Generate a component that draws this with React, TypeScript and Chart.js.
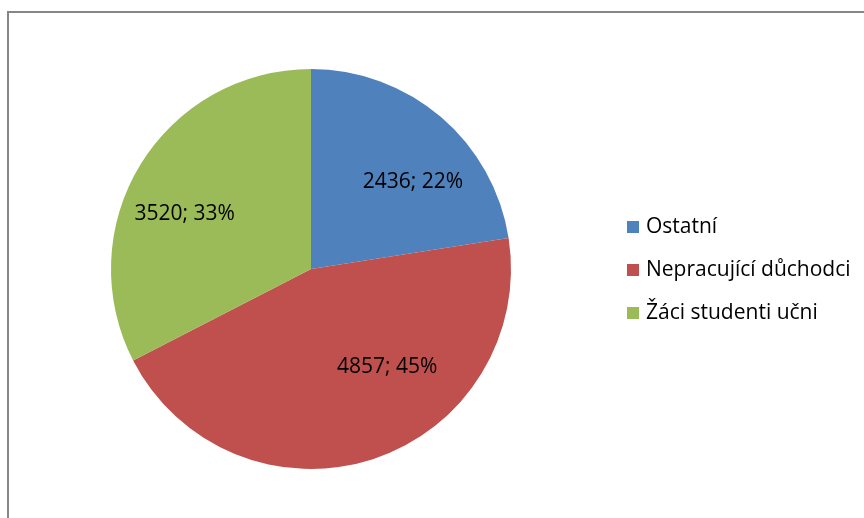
import React, { useEffect, useRef } from "react";
import { Chart, registerables } from "chart.js";

Chart.register(...registerables);

const categories = ["Ostatní", "Nepracující důchodci", "Žáci studenti učni"];
const values = [2436, 4857, 3520];
const percentLabels = ["22%", "45%", "33%"];
const colors = ["#4F81BD", "#C0504D", "#9BBB59"];

// label anchor inside each slice: fraction along slice angle, fraction of radius
const labelAngleFrac = [0.61, 0.377, 0.434];
const labelRadiusFrac = [0.67, 0.62, 0.69];

const FONT = '"Open Sans", "DejaVu Sans", sans-serif';

const labelPlugin = {
  id: "sliceLabels",
  afterDatasetsDraw(chart: any) {
    const ctx = chart.ctx;
    const meta = chart.getDatasetMeta(0);
    ctx.save();
    ctx.font = `21px ${FONT}`;
    ctx.fillStyle = "#000";
    ctx.textAlign = "center";
    ctx.textBaseline = "middle";
    meta.data.forEach((arc: any, i: number) => {
      const p = arc.getProps(["x", "y", "startAngle", "endAngle", "outerRadius"], true);
      const a = p.startAngle + (p.endAngle - p.startAngle) * labelAngleFrac[i];
      const r = p.outerRadius * labelRadiusFrac[i];
      const txt = `${values[i]}; ${percentLabels[i]}`;
      ctx.fillText(txt, p.x + Math.cos(a) * r, p.y + Math.sin(a) * r);
    });
    ctx.restore();
  },
};

const legendPlugin = {
  id: "sideLegend",
  afterDraw(chart: any) {
    const ctx = chart.ctx;
    ctx.save();
    ctx.font = `21px ${FONT}`;
    ctx.textBaseline = "middle";
    ctx.textAlign = "left";
    const labels = chart.data.labels as string[];
    labels.forEach((lab, i) => {
      const cy = 227 + i * 43;
      ctx.fillStyle = colors[i];
      ctx.fillRect(627, cy - 6, 12, 12);
      ctx.fillStyle = "#000";
      ctx.fillText(lab, 646, cy);
    });
    ctx.restore();
  },
};

export default function App() {
  const ref = useRef<HTMLCanvasElement | null>(null);
  useEffect(() => {
    if (!ref.current) return;
    const chart = new Chart(ref.current, {
      type: "pie",
      data: {
        labels: categories,
        datasets: [
          {
            data: values,
            backgroundColor: colors,
            borderWidth: 0,
          },
        ],
      },
      options: {
        responsive: false,
        animation: false,
        devicePixelRatio: 1,
        layout: { padding: { left: 111, top: 69, right: 353, bottom: 49 } },
        plugins: {
          legend: { display: false },
          tooltip: { enabled: false },
          title: { display: false },
        },
      },
      plugins: [labelPlugin, legendPlugin],
    });
    return () => chart.destroy();
  }, []);

  return (
    <div
      style={{
        position: "fixed",
        left: 0,
        top: 0,
        width: 864,
        height: 518,
        overflow: "hidden",
        background: "#fff",
      }}
    >
      <div
        style={{
          position: "absolute",
          left: 7,
          top: 11,
          width: 900,
          height: 600,
          border: "2px solid #868686",
          boxSizing: "border-box",
        }}
      />
      <canvas
        ref={ref}
        width={864}
        height={518}
        style={{ position: "absolute", left: 0, top: 0, width: 864, height: 518 }}
      />
    </div>
  );
}
